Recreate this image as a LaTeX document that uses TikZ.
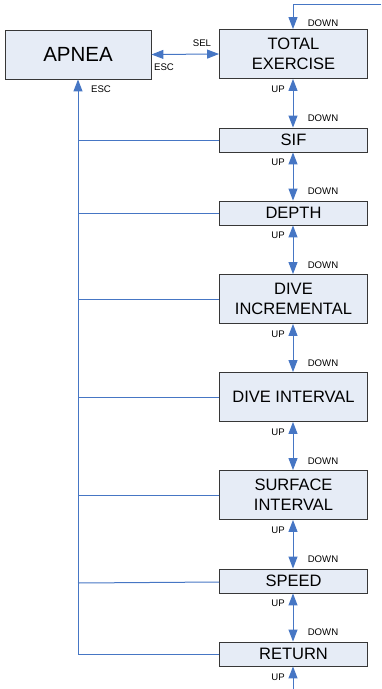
\documentclass[tikz,border=0pt]{standalone}
\usepackage{fontspec}
\setmainfont{Liberation Sans}
\usetikzlibrary{arrows.meta}
\definecolor{boxfill}{RGB}{230,236,246}
\definecolor{boxline}{RGB}{55,55,55}
\definecolor{wire}{RGB}{70,118,196}
\tikzset{
  menubox/.style={draw=boxline, line width=0.9pt, fill=boxfill, minimum width=148pt, inner sep=0pt, align=center, font=\fontsize{16.5}{20}\selectfont},
  lowbox/.style={menubox, minimum height=24pt},
  tallbox/.style={menubox, minimum height=49pt},
  wireline/.style={draw=wire, line width=1pt},
  twoway/.style={wireline, {Triangle[width=9pt,length=12pt]}-{Triangle[width=9pt,length=12pt]}},
  oneway/.style={wireline, -{Triangle[width=9pt,length=12pt]}},
  lbl/.style={font=\fontsize{9.6}{11}\selectfont, inner sep=0pt}
}
\begin{document}
\begin{tikzpicture}[x=1pt,y=-1pt]
\useasboundingbox (0,0) rectangle (381,689);
% boxes
\node[menubox, minimum width=146pt, minimum height=49pt, font=\fontsize{20.5}{24}\selectfont] (apnea) at (78,54.5) {APNEA};
\node[tallbox] (total) at (293.5,54) {TOTAL\\EXERCISE};
\node[lowbox] (sif) at (293.5,140) {SIF};
\node[lowbox] (depth) at (293.5,213) {DEPTH};
\node[tallbox] (diveinc) at (293.5,299) {DIVE\\INCREMENTAL};
\node[tallbox] (diveint) at (293.5,397) {DIVE INTERVAL};
\node[tallbox] (surf) at (293.5,495) {SURFACE\\INTERVAL};
\node[lowbox] (speed) at (293.5,581) {SPEED};
\node[lowbox] (ret) at (293.5,654) {RETURN};
% APNEA <-> TOTAL
\draw[twoway] (apnea.east) -- (total.west);
\node[lbl] (sel) at (202,43) {SEL};
\node[lbl] (esc1) at (164,67) {ESC};
% top entry
\coordinate (tr) at (381,4);
\coordinate (tl) at (293,4);
\draw[oneway] (tr) -- (tl) -- (tl |- total.north);
\node[lbl] (dn0) at (323,23) {DOWN};
% vertical chain
\foreach \a/\b in {total/sif, sif/depth, depth/diveinc, diveinc/diveint, diveint/surf, surf/speed, speed/ret}{
  \draw[twoway] (tl |- \a.south) -- (tl |- \b.north);
  \node[lbl] at ([yshift=-10pt] 278,0 |- \a.south) {UP};
  \node[lbl] at ([yshift=9pt] 323,0 |- \b.north) {DOWN};
}
% bottom entry
\coordinate (bot) at (293,689);
\draw[oneway] (bot) -- (bot |- ret.south);
\node[lbl] (up9) at (278,677) {UP};
% escape bus
\coordinate (busb) at (78,654);
\draw[oneway] (busb) -- (apnea.south);
\node[lbl] (esc2) at (101,89) {ESC};
\foreach \n in {sif, depth, diveinc, diveint, surf, ret}{
  \draw[wireline] (78,0 |- \n.west) -- (\n.west);
}
\coordinate (spj) at (78,583);
\draw[wireline] (spj) -- ([yshift=-1pt]speed.west);
\end{tikzpicture}
\end{document}
